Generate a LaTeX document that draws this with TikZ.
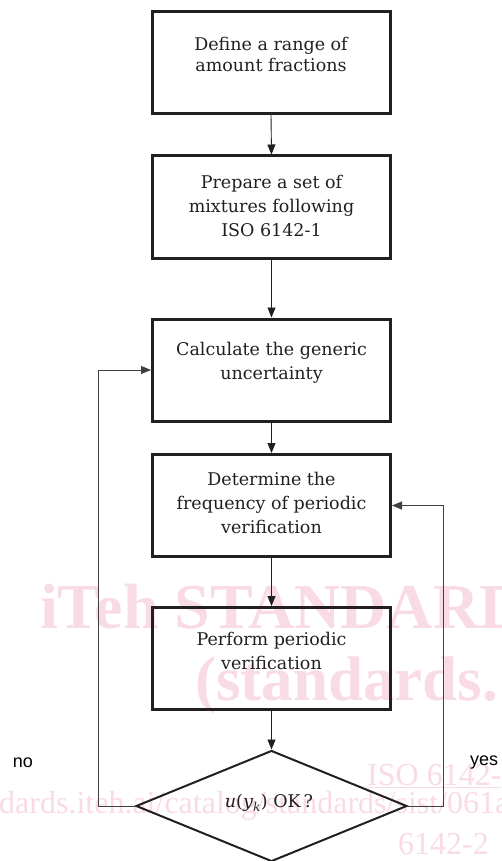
\documentclass[tikz,border=0pt]{standalone}
\usepackage{fontspec}
\setmainfont{DejaVu Serif}
\newfontfamily\wmfont{Liberation Serif}
\newfontfamily\labfont{Liberation Sans}
\usetikzlibrary{arrows.meta,shapes.geometric}
\definecolor{ink}{RGB}{35,31,32}
\definecolor{wm}{RGB}{249,219,227}
\begin{document}
\begin{tikzpicture}[x=1pt,y=-1pt,
  box/.style={draw=ink,line width=3pt,minimum width=238pt,minimum height=102pt,inner sep=0pt},
  txt/.style={font=\fontsize{17.5}{24}\selectfont,align=center,text=ink,inner sep=0pt},
  conn/.style={draw=ink,line width=0.9pt,-{Triangle[length=10pt,width=8pt]}},
  fb/.style={draw=black!75,line width=0.9pt,-{Triangle[length=10pt,width=8pt]}},
  wmark/.style={text=wm,inner sep=0pt,anchor=base west},
  wmbig/.style={wmark,font=\wmfont\bfseries\fontsize{64}{64}\selectfont},
  wmsmall/.style={wmark,font=\wmfont\fontsize{32}{32}\selectfont},
  lab/.style={font=\labfont\fontsize{18}{20}\selectfont,inner sep=0pt,text=black}]
\useasboundingbox (0,0) rectangle (501,861);
% watermark
\begin{scope}
  \clip (0,0) rectangle (501,861);
  \node[wmbig] (wm1) at (40,628) {iTeh STANDARDS};
  \node[wmbig,font=\wmfont\bfseries\fontsize{63}{63}\selectfont] (wm2) at (195,700) {(standards.};
  \node[wmsmall] (wm3) at (367,785) {\underline{ISO 6142-2}};
  \node[wmsmall] (wm4) at (-1,813) {dards.iteh.ai/catalog/standards/sist/061a};
  \node[wmsmall] (wm5) at (398,854) {6142-2};
\end{scope}
% boxes
\node[box] (b1) at (271,62.5) {};
\node[box] (b2) at (271.5,207) {};
\node[box] (b3) at (271.5,370) {};
\node[box] (b4) at (271.5,505.5) {};
\node[box] (b5) at (271.5,658.5) {};
\node[draw=ink,line width=2pt,diamond,minimum width=271pt,minimum height=111pt,inner sep=0pt] (d) at (271.5,806) {};
% texts
\node[txt,font=\fontsize{17.5}{21}\selectfont] (t1) at (271,54) {Define a range of\\amount fractions};
\node[txt] (t2) at (271.5,205.5) {Prepare a set of\\mixtures following\\ISO 6142-1};
\node[txt] (t3) at (271.5,362.5) {Calculate the generic\\uncertainty};
\node[txt] (t4) at (271.5,502.5) {Determine the\\frequency of periodic\\verification};
\node[txt] (t5) at (271.5,651) {Perform periodic\\verification};
\node[txt] (td) at (269,803) {\textit{u}(\textit{y}\textsubscript{\textit{k}}) OK\,?};
\node[lab] (no) at (23,763) {no};
\node[lab] (yes) at (484,763) {yes};
% connectors
\draw[conn] (b1.south) -- (b2.north);
\draw[conn] (b2.south) -- (b3.north);
\draw[conn] (b3.south) -- (b4.north);
\draw[conn] (b4.south) -- (b5.north);
\draw[conn] (b5.south) -- (d.north);
\draw[fb] (d.west) -- ++(-37,0) |- (b3.west);
\draw[fb] (d.east) -- ++(35,0) |- (b4.east);
\end{tikzpicture}
\end{document}
